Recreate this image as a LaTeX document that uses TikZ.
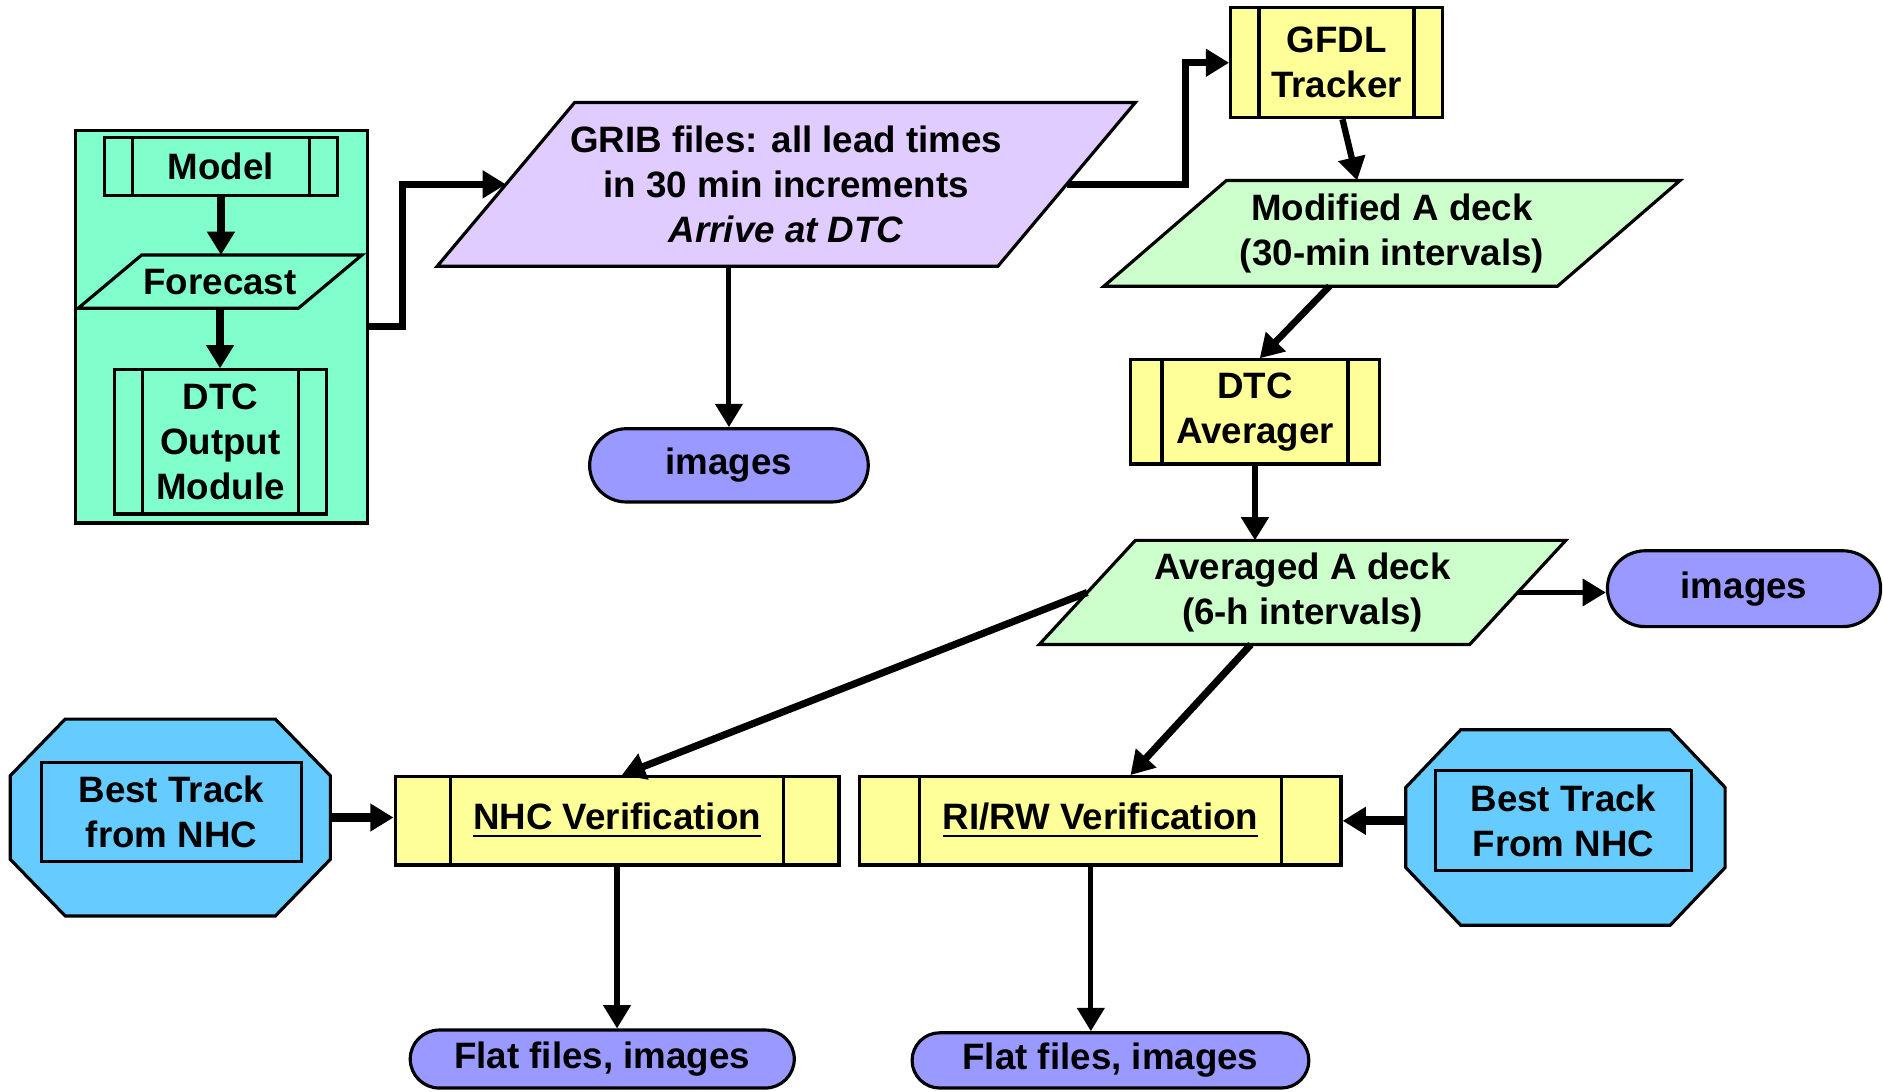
\documentclass[tikz,border=0pt]{standalone}
\usepackage{fontspec}
\setmainfont{Liberation Sans}
\usepackage{xcolor}
\usepackage{tikz}
\usetikzlibrary{positioning, arrows.meta, shapes, backgrounds}

\definecolor{menta}{RGB}{128,255,204}
\definecolor{lila}{RGB}{224,204,255}
\definecolor{verdec}{RGB}{204,255,204}
\definecolor{amarillo}{RGB}{255,255,153}
\definecolor{celeste}{RGB}{102,204,255}
\definecolor{morado}{RGB}{153,153,255}

\tikzset{
  caja/.style={draw, line width=0.75pt, inner sep=0pt, align=center},
  proceso/.style={caja, fill=amarillo, path picture={
      \draw[line width=0.75pt]
        ([xshift=#1]path picture bounding box.north west) -- ([xshift=#1]path picture bounding box.south west)
        ([xshift=-#1]path picture bounding box.north east) -- ([xshift=-#1]path picture bounding box.south east);}},
  datos/.style={inner sep=0pt, align=center},
  borde/.style={draw, line width=0.75pt, line join=miter},
  terminal/.style={caja, rounded rectangle, fill=morado},
  flecha/.style={-{Triangle[length=5.5pt,width=6.3pt]}, line width=1.2pt},
  codo/.style={flecha, line width=1.6pt},
}

\begin{document}
\begin{tikzpicture}[font=\fontsize{8.7pt}{10.7pt}\selectfont\bfseries]
        \useasboundingbox (0,0) rectangle (15.68,-9.085);
        % Modelo
        \node[proceso=0.235cm, fill=menta, minimum width=1.94cm, minimum height=0.485cm] (model) at (1.84,-1.3875) {Model};
        \node[datos, minimum width=1.82cm, minimum height=0.43cm] (fc) at (1.8325,-2.345) {Forecast};
        \node[proceso=0.235cm, fill=menta, minimum width=1.77cm, minimum height=1.2cm] (dtco) at (1.835,-3.68) {DTC\\Output\\Module};
        % Archivos GRIB
        \node[datos, minimum width=4.655cm, minimum height=1.35cm] (grib) at (6.5475,-1.535)
            {GRIB files: all lead times\\in 30 min increments\\\textit{Arrive at DTC}};
        \node[terminal, minimum width=2.32cm, minimum height=0.61cm] (img1) at (6.07,-3.875) {images};
        % Tracker y promedios
        \node[proceso=0.235cm, minimum width=1.762cm, minimum height=0.915cm] (gfdl) at (11.129,-0.5225) {GFDL\\Tracker};
        \node[datos, minimum width=3.763cm, minimum height=0.866cm] (mod) at (11.591,-1.943) {Modified A deck\\(30-min intervals)};
        \node[proceso=0.26cm, minimum width=2.069cm, minimum height=0.867cm] (avgr) at (10.45,-3.43) {DTC\\Averager};
        \node[datos, minimum width=3.57cm, minimum height=0.853cm] (avgd) at (10.846,-4.9335) {Averaged A deck\\(6-h intervals)};
        \node[terminal, minimum width=2.275cm, minimum height=0.632cm] (img2) at (14.5225,-4.902) {images};
        % Verificaciones
        \node[proceso=0.46cm, minimum width=3.696cm, minimum height=0.736cm] (nhc) at (5.138,-6.835) {\underline{NHC Verification}};
        \node[proceso=0.495cm, minimum width=4.007cm, minimum height=0.736cm] (rirw) at (9.1635,-6.835) {\underline{RI/RW Verification}};
        % Best Track
        \node[datos, minimum width=2.652cm, minimum height=1.625cm] (bt1) at (1.418,-6.8075) {};
        \node[caja, fill=celeste, minimum width=2.162cm, minimum height=0.825cm] (bt1in) at (1.428,-6.7625) {Best Track\\from NHC};
        \node[datos, minimum width=2.645cm, minimum height=1.613cm] (bt2) at (13.0355,-6.8905) {};
        \node[caja, fill=celeste, minimum width=2.135cm, minimum height=0.833cm] (bt2in) at (13.0195,-6.8335) {Best Track\\From NHC};
        % Salidas
        \node[terminal, minimum width=3.198cm, minimum height=0.483cm] (flat1) at (5.015,-8.8185) {Flat files, images};
        \node[terminal, minimum width=3.304cm, minimum height=0.46cm] (flat2) at (9.247,-8.83) {Flat files, images};

        % Fondos: caja verde, paralelogramos, octagonos
        \begin{scope}[on background layer]
        \node[caja, fill=menta, minimum width=2.43cm, minimum height=3.27cm] (cont) at (1.845,-2.72) {};
        \draw[borde, fill=menta] ([xshift=0.265cm]fc.north west) -- ([xshift=0.265cm]fc.north east)
            -- ([xshift=-0.265cm]fc.south east) -- ([xshift=-0.265cm]fc.south west) -- cycle;
        \draw[borde, fill=lila] ([xshift=0.5725cm]grib.north west) -- ([xshift=0.5725cm]grib.north east)
            -- ([xshift=-0.5725cm]grib.south east) -- ([xshift=-0.5725cm]grib.south west) -- cycle;
        \draw[borde, fill=verdec] ([xshift=0.51cm]mod.north west) -- ([xshift=0.51cm]mod.north east)
            -- ([xshift=-0.51cm]mod.south east) -- ([xshift=-0.51cm]mod.south west) -- cycle;
        \draw[borde, fill=verdec] ([xshift=0.4cm]avgd.north west) -- ([xshift=0.4cm]avgd.north east)
            -- ([xshift=-0.4cm]avgd.south east) -- ([xshift=-0.4cm]avgd.south west) -- cycle;
        \draw[borde, fill=celeste] ([xshift=0.458cm]bt1.north west) -- ([xshift=-0.458cm]bt1.north east)
            -- ([yshift=-0.472cm]bt1.north east) -- ([yshift=0.472cm]bt1.south east)
            -- ([xshift=-0.458cm]bt1.south east) -- ([xshift=0.458cm]bt1.south west)
            -- ([yshift=0.472cm]bt1.south west) -- ([yshift=-0.472cm]bt1.north west) -- cycle;
        \draw[borde, fill=celeste] ([xshift=0.457cm]bt2.north west) -- ([xshift=-0.457cm]bt2.north east)
            -- ([yshift=-0.48cm]bt2.north east) -- ([yshift=0.48cm]bt2.south east)
            -- ([xshift=-0.457cm]bt2.south east) -- ([xshift=0.457cm]bt2.south west)
            -- ([yshift=0.48cm]bt2.south west) -- ([yshift=-0.48cm]bt2.north west) -- cycle;
        \end{scope}

        % Flechas
        \draw[flecha, line width=1.7pt] (model.south) -- (model.south |- fc.north);
        \draw[flecha, line width=1.7pt] (fc.south) -- (fc.south |- dtco.north);
        \draw[codo] (cont.east) -- ++(0.28,0) |- (grib.west);
        \draw[flecha] (grib.south -| img1.north) -- (img1.north);
        \draw[codo] (grib.east) -- ++(0.99,0) |- (gfdl.west);
        \draw[flecha, line width=1.5pt] ([xshift=0.05cm]gfdl.south) -- ([xshift=-0.29cm]mod.north);
        \draw[flecha, line width=1.6pt] ([xshift=-0.52cm]mod.south) -- ([xshift=0.04cm]avgr.north);
        \draw[flecha, line width=1.5pt] (avgr.south) -- (avgr.south |- avgd.north);
        \draw[flecha] (avgd.east) -- (avgd.east -| img2.west);
        \draw[flecha, line width=1.7pt] (avgd.west) -- ([xshift=0.04cm]nhc.north);
        \draw[flecha, line width=1.7pt] ([xshift=-0.43cm]avgd.south) -- ([xshift=0.25cm]rirw.north);
        \draw[flecha, line width=2.2pt] (bt1.east) -- (bt1.east -| nhc.west);
        \draw[flecha, line width=2.2pt] (bt2.west |- rirw.east) -- (rirw.east);
        \draw[flecha] (nhc.south) -- (nhc.south |- flat1.north);
        \draw[flecha] ([xshift=-0.08cm]rirw.south) -- ([xshift=-0.08cm]rirw.south |- flat2.north);
\end{tikzpicture}
\end{document}
